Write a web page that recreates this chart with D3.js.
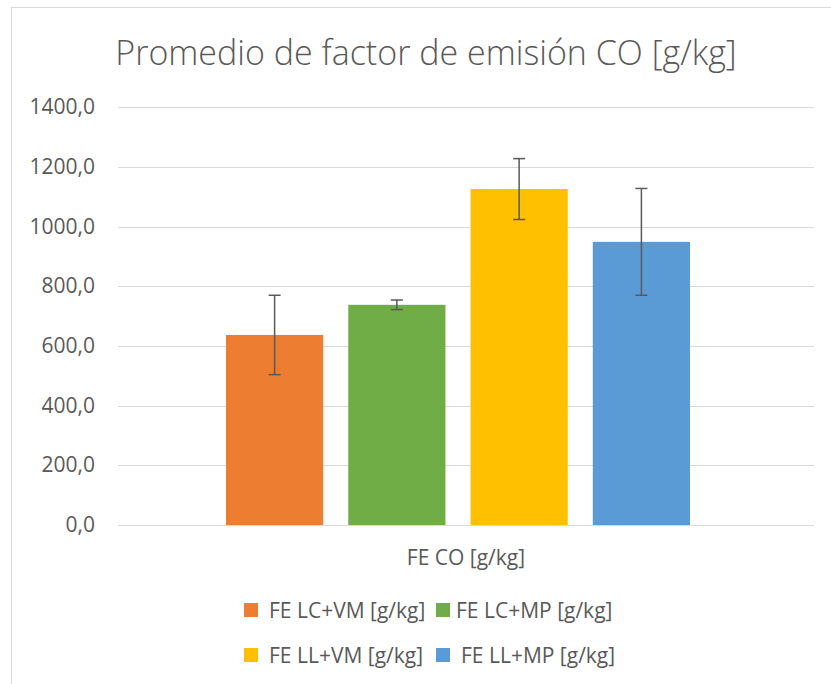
<!DOCTYPE html>
<html><head><meta charset="utf-8">
<script src="https://cdn.jsdelivr.net/npm/d3@7"></script>
<style>body{margin:0;background:#fff}svg{display:block}text{font-family:"Open Sans",sans-serif;fill:#595959}</style>
</head><body>
<script>
const title = "Promedio de factor de emisión CO [g/kg]";
const category = "FE CO [g/kg]";
const seriesNames = ["FE LC+VM [g/kg]", "FE LC+MP [g/kg]", "FE LL+VM [g/kg]", "FE LL+MP [g/kg]"];
const seriesValues = [637, 738, 1126, 949];
const seriesErrors = [133, 16, 102, 179];
const seriesColors = ["#ED7D31", "#70AD47", "#FFC000", "#5B9BD5"];
const yTicks = [0, 200, 400, 600, 800, 1000, 1200, 1400];

const W = 831, H = 684;
const svg = d3.select("body").append("svg").attr("width", W).attr("height", H);

// chart border
svg.append("rect").attr("x", 11.5).attr("y", 7.5).attr("width", W + 10).attr("height", H + 10)
  .attr("fill", "none").attr("stroke", "#d9d9d9").attr("stroke-width", 1);

const plot = {left: 118, right: 814, top: 107.3, bottom: 525};
const y = d3.scaleLinear().domain([0, 1400]).range([plot.bottom, plot.top]);
const xCat = d3.scaleBand().domain([category]).range([plot.left, plot.right]).paddingInner(0).paddingOuter(0);
const xSer = d3.scaleBand().domain(seriesNames).range([xCat(category) + 108, xCat(category) + xCat.bandwidth() - 124]).paddingInner(0.205).paddingOuter(0);

// gridlines
svg.append("g").selectAll("line").data(yTicks).join("line")
  .attr("x1", plot.left).attr("x2", plot.right)
  .attr("y1", d => Math.round(y(d)) + 0.5).attr("y2", d => Math.round(y(d)) + 0.5)
  .attr("stroke", "#d9d9d9").attr("stroke-width", 1);

// y axis labels
const fmt = v => d3.format(".1f")(v).replace(".", ",");
svg.append("g").selectAll("text").data(yTicks).join("text")
  .attr("x", 95).attr("y", d => y(d) + 7).attr("text-anchor", "end")
  .attr("font-size", 21).text(d => fmt(d));

// bars
const data = seriesNames.map((n, i) => ({name: n, value: seriesValues[i], err: seriesErrors[i], color: seriesColors[i]}));
svg.append("g").selectAll("rect").data(data).join("rect")
  .attr("x", d => xSer(d.name)).attr("width", xSer.bandwidth())
  .attr("y", d => y(d.value)).attr("height", d => y(0) - y(d.value))
  .attr("fill", d => d.color);

// error bars
const eg = svg.append("g").attr("stroke", "#595959").attr("stroke-width", 1.5);
data.forEach(d => {
  const cx = xSer(d.name) + xSer.bandwidth() / 2;
  eg.append("line").attr("x1", cx).attr("x2", cx).attr("y1", y(d.value + d.err)).attr("y2", y(d.value - d.err));
  [d.value + d.err, d.value - d.err].forEach(v =>
    eg.append("line").attr("x1", cx - 6).attr("x2", cx + 6).attr("y1", y(v)).attr("y2", y(v)));
});

// title
svg.append("text").attr("x", 426).attr("y", 65).attr("text-anchor", "middle")
  .attr("font-size", 34).attr("font-weight", 300).text(title);

// category label
svg.append("text").attr("x", 466).attr("y", 565).attr("text-anchor", "middle")
  .attr("font-size", 21).text(category);

// legend
const legPos = [[244, 603], [436, 603], [244, 648], [436, 648]];
const legTextX = [269, 456, 269, 461];
const lg = svg.append("g");
data.forEach((d, i) => {
  const [lx, ly] = legPos[i];
  lg.append("rect").attr("x", lx).attr("y", ly).attr("width", 14).attr("height", 14).attr("fill", d.color);
  lg.append("text").attr("x", legTextX[i]).attr("y", ly + 15).attr("font-size", 21).text(d.name);
});
</script>
</body></html>
